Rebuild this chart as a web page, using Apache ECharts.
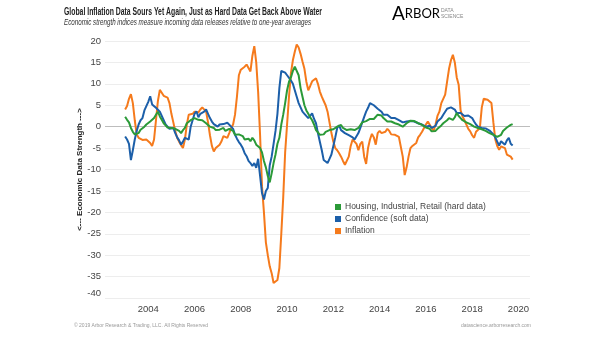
<!DOCTYPE html>
<html>
<head>
<meta charset="utf-8">
<script src="https://cdn.jsdelivr.net/npm/echarts@6/dist/echarts.min.js"></script>
<style>
  html, body { margin: 0; padding: 0; background: #fff; }
  #chart { width: 605px; height: 341px; }
</style>
</head>
<body>
<div id="chart"></div>
<script>
// Monthly index readings, first observation January 2003
const startYear = 2003;

// Inflation index, one row per year
const inflation = [
  4, 4.8, 6.5, 7.6, 5.5, 1.5, -1.8, -2.6, -2.9, -3.1, -3.3, -3.0,
  -3.2, -3.8, -4.5, -3.0, 1.5, 6.0, 8.6, 8.4, 7.2, 7.0, 6.8, 5.5,
  3.0, 1.0, -1.0, -2.6, -3.5, -4.3, -5.0, -3.0, 0.5, 2.8, 3.2, 3.0,
  3.5, 3.8, 3.3, 4.0, 4.5, 4.8, 3.5, 1.0, -2.0, -4.5, -5.8, -5.0,
  -5.0, -4.2, -3.4, -2.2, -1.9, -2.6, -1.5, -0.3, 0.5, 2.8, 7.0, 12.0,
  13.3, 13.0, 14.0, 14.5, 13.7, 12.9, 16.5, 18.8, 15.0, 8.0, -2.0, -14.0,
  -20, -27, -30, -32.6, -34.2, -36.5, -36.8, -35.8, -33, -25, -16.5, -6,
  0.5, 7.0, 12.5, 15.5, 17.5, 19.2, 18.5, 17.0, 15.2, 13.5, 10.5, 8.5,
  9.5, 10.6, 11.0, 11.3, 10.0, 8.2, 7.0, 6.0, 5.0, 3.5, 1.0, -1.5,
  -3.5, -5.0, -5.5, -6.2, -7.0, -8.0, -8.9, -8.8, -7.0, -4.5, -3.0, -2.8,
  -4.0, -5.5, -4.0, -3.5, -7.0, -8.7, -5.0, -3.0, -1.7, -2.5, -4.2, -1.5,
  -1.0, -1.5, -1.8, -1.2, -0.5, -1.0, -1.8, -2.2, -1.9, -2.0, -2.4, -2.8,
  -7.0, -11.3, -9.5, -7.0, -5.0, -4.5, -4.2, -3.8, -2.5, -1.9, -1.2, -0.8,
  0.5, 1.2, 0.8, -0.3, -1.0, 0.5, 2.5, 3.5, 5.5, 6.5, 7.5, 10.5,
  13.5, 15.5, 16.8, 15.0, 11.5, 9.8, 3.8, 2.4, 1.5, 0.5, -0.5, -1.1,
  -2.0, -2.6, -1.2, -1.0, -0.3, 4.5, 6.5, 6.7, 6.3, 6.2, 5.5, 1.0,
  -3.0, -4.5, -5.4, -4.6, -4.8, -5.0, -6.5, -6.8, -7.0, -7.7
];

// Confidence (soft data) index
const confidence = [
  -2.3, -3.0, -4.0, -7.8, -5.5, -3.0, -1.0, 0.5, 1.5, 2.0, 3.8, 4.8,
  5.8, 7.1, 5.2, 4.8, 4.4, 4.0, 3.5, 2.5, 1.5, 0.5, 0.0, -0.5,
  -0.7, -0.3, -1.5, -2.5, -3.2, -4.2, -3.5, -2.6, -2.3, -3.0, 0.0, 1.5,
  3.0, 3.6, 2.2, 3.0, 2.8, 3.5, 4.0, 3.0, 2.0, 1.2, 0.6, 0.3,
  0.0, 0.5, 0.9, 0.6, 0.5, 0.9, 0.5, 0.0, -0.5, -1.9, -2.8, -3.6,
  -4.2, -5.0, -6.2, -6.9, -8.0, -8.5, -9.2, -8.5, -9.6, -7.5, -11.5, -15.5,
  -17.0, -15.0, -14.3, -9.0, -7.0, -4.0, -1.0, 3.0, 9.0, 13.0, 13.3, 12.6,
  12.0, 11.7, 10.8, 10.0, 8.5, 7.0, 5.5, 4.5, 3.5, 3.0, 2.6, 2.0,
  2.5, 3.1, 1.8, 0.8, -1.5, -3.5, -5.5, -7.8, -8.2, -8.5, -7.5, -6.5,
  -4.5, -2.5, -0.3, 0.3, -0.8, -1.2, -1.5, -1.9, -2.0, -2.2, -2.5, -3.0,
  -3.0, -1.5, -0.3, 1.0, 2.3, 3.5, 4.4, 5.5, 5.2, 5.0, 4.6, 4.2,
  4.0, 3.5, 2.8, 2.4, 2.8, 2.5, 2.0, 2.2, 2.0, 1.8, 1.5, 1.2,
  1.0, 1.4, 1.2, 1.6, 1.3, 1.0, 1.2, 0.9, 0.8, 0.6, 0.5, 0.3,
  0.0, -0.2, 0.2, -0.3, -0.5, 0.2, 1.2, 1.0, 2.0, 2.8, 3.5, 4.2,
  4.4, 4.5, 4.7, 4.0, 3.2, 3.4, 3.2, 2.8, 2.5, 2.4, 2.6, 2.4,
  2.0, 1.2, 0.5, 0.0, -0.2, -0.3, -0.5, -0.4, -0.7, -0.9, -1.1, -1.8,
  -2.5, -3.5, -4.4, -3.4, -3.8, -4.2, -3.2, -2.6, -4.0, -4.4
];

// Housing, industrial, retail (hard data) index
const hardData = [
  2.3, 1.6, 1.0, -0.3, -1.2, -1.8, -1.6, -1.5, -0.7, -0.3, 0.0, 0.5,
  0.9, 1.2, 1.6, 2.0, 2.8, 3.5, 2.4, 1.6, 0.8, 0.3, -0.2, -0.3,
  -0.3, -0.2, -0.5, -0.7, -1.0, -1.5, -0.8, -0.3, 0.8, 1.2, 1.5, 1.8,
  2.0, 1.9, 1.6, 2.0, 1.5, 1.2, 0.8, 0.5, 0.0, 0.0, -0.3, -0.8,
  -1.1, -0.7, -0.5, -0.3, -1.0, -1.1, -0.5, -0.7, -1.0, -1.9, -2.3, -1.8,
  -1.5, -2.2, -3.0, -2.6, -2.8, -3.4, -2.6, -3.2, -4.2, -4.6, -5.0, -6.0,
  -8.0, -9.5, -11.5, -13.0, -10.9, -8.5, -6.5, -4.0, -2.6, 0.5, 2.8, 5.5,
  8.5, 10.5, 11.5, 13.0, 14.0, 14.3, 12.0, 9.0, 7.0, 5.0, 3.8, 3.0,
  2.2, 1.5, 0.5, -0.8, -1.3, -1.9, -1.6, -1.8, -1.2, -1.0, -0.8, -0.5,
  -0.6, -0.4, 0.0, 0.2, 0.4, -0.3, -0.5, -0.8, -0.5, -0.6, -0.7, -0.8,
  -0.5, -0.3, 0.0, 1.0, 1.2, 1.3, 1.6, 1.8, 2.0, 1.8, 1.6, 2.8,
  3.2, 2.6, 2.0, 1.8, 1.2, 1.5, 1.2, 0.9, 0.8, 0.4, 0.5, 0.2,
  0.0, 0.3, 0.8, 1.2, 1.4, 1.6, 1.3, 0.9, 0.8, 0.5, 0.4, 0.0,
  -0.2, -0.3, -0.5, -1.1, -1.5, -1.0, -0.5, -0.3, 0.3, 0.8, 1.0, 1.5,
  2.0, 1.8, 1.6, 2.2, 3.2, 2.5, 2.0, 1.5, 1.2, 1.0, 0.9, 0.6,
  0.3, 0.0, -0.2, -0.3, -0.4, -0.6, -0.7, -1.0, -1.3, -1.5, -1.7, -1.9,
  -2.0, -2.4, -2.6, -1.9, -1.0, -0.7, -0.2, 0.0, 0.4, 0.6
];

const seriesNames = ['Housing, Industrial, Retail (hard data)', 'Confidence (soft data)', 'Inflation'];
const seriesColors = ['#2b9a38', '#1c5fa9', '#f57a1c'];
const yearLabels = [2004, 2006, 2008, 2010, 2012, 2014, 2016, 2018, 2020];

const titleText = 'Global Inflation Data Sours Yet Again, Just as Hard Data Get Back Above Water';
const subtitleText = 'Economic strength indices measure incoming data releases relative to one-year averages';

const toPoints = arr => arr.map((v, i) => [startYear + i / 12, v]);

const baseFont = "'Liberation Sans', Arial, sans-serif";

// Headline is set in a condensed face: squeeze the regular face to the headline width
const measureCtx = document.createElement('canvas').getContext('2d');
function squeeze(text, font, targetWidth) {
  measureCtx.font = font;
  const w = measureCtx.measureText(text).width;
  return Math.min(1, targetWidth / w);
}
const titleFont = "bold 10px 'Liberation Sans'";
const subFont = "italic 9.5px 'Liberation Sans'";
const titleScale = squeeze(titleText, titleFont, 258);
const subScale = squeeze(subtitleText, subFont, 247);

const chart = echarts.init(document.getElementById('chart'), null, { renderer: 'canvas' });

function lineSeries(idx, values, z) {
  return {
    name: seriesNames[idx],
    type: 'line',
    data: toPoints(values),
    showSymbol: false,
    symbol: 'none',
    z: z,
    lineStyle: { color: seriesColors[idx], width: 2 },
    itemStyle: { color: seriesColors[idx] },
    animation: false
  };
}

const inflationSeries = lineSeries(2, inflation, 2);
inflationSeries.markLine = {
  silent: true,
  symbol: 'none',
  label: { show: false },
  lineStyle: { color: '#bdbdbd', width: 1, type: 'solid' },
  data: [{ yAxis: 0 }],
  z: 1
};

chart.setOption({
  backgroundColor: '#ffffff',
  animation: false,
  legend: {
    orient: 'vertical',
    left: 330,
    top: 197,
    itemWidth: 6,
    itemHeight: 6,
    itemGap: 2,
    icon: 'rect',
    selectedMode: false,
    data: seriesNames,
    textStyle: { fontFamily: baseFont, fontSize: 8.5, color: '#444', lineHeight: 10, padding: [0, 0, 0, -1] }
  },
  grid: { left: 105, right: 75, top: 41, bottom: 43 },
  xAxis: {
    type: 'value',
    min: 2002.13,
    max: 2020.5,
    axisLine: { show: false },
    axisTick: { show: false },
    splitLine: { show: false },
    axisLabel: {
      customValues: yearLabels,
      margin: 6,
      fontFamily: baseFont,
      fontSize: 9.5,
      color: '#444',
      formatter: v => String(v)
    }
  },
  yAxis: {
    type: 'value',
    min: -40,
    max: 20,
    interval: 5,
    name: '<--- Economic Data Strength --->',
    nameLocation: 'middle',
    nameGap: 21,
    nameMoveOverlap: false,
    nameTextStyle: { fontFamily: baseFont, fontSize: 8, fontWeight: 'bold', color: '#222' },
    axisLine: { show: false },
    axisTick: { show: false },
    splitLine: { lineStyle: { color: '#ededed', width: 1 } },
    axisLabel: {
      margin: 4,
      fontFamily: baseFont,
      fontSize: 9.5,
      color: '#444',
      formatter: v => (v === -40 ? '{edge|-40}' : String(v)),
      rich: { edge: { fontFamily: baseFont, fontSize: 9.5, color: '#444', padding: [0, 0, 10, 0] } }
    }
  },
  series: [
    inflationSeries,
    lineSeries(1, confidence, 3),
    lineSeries(0, hardData, 4)
  ],
  graphic: [
    {
      type: 'text',
      x: 64,
      y: 7,
      scaleX: titleScale,
      style: { text: titleText, font: titleFont, fill: '#222' }
    },
    {
      type: 'text',
      x: 64,
      y: 17.5,
      scaleX: subScale,
      style: { text: subtitleText, font: subFont, fill: '#333' }
    },
    {
      type: 'text',
      x: 392,
      y: 4,
      style: {
        text: '{a|A}{r|RBOR}',
        rich: {
          a: { fontFamily: "'Lato', sans-serif", fontSize: 19, color: '#2a7cbc' },
          r: { fontFamily: "'Lato', sans-serif", fontSize: 13, color: '#2a7cbc' }
        }
      }
    },
    {
      type: 'text',
      x: 441,
      y: 7,
      style: { text: 'DATA\nSCIENCE', fontFamily: baseFont, fontSize: 5, lineHeight: 6.5, fill: '#888' }
    },
    {
      type: 'text',
      x: 74,
      y: 323,
      style: { text: '\u00a9 2019 Arbor Research & Trading, LLC. All Rights Reserved', fontFamily: baseFont, fontSize: 5, fill: '#999' }
    },
    {
      type: 'text',
      x: 461,
      y: 323,
      style: { text: 'datascience.arborresearch.com', fontFamily: baseFont, fontSize: 5, fill: '#999' }
    }
  ]
});
</script>
</body>
</html>
